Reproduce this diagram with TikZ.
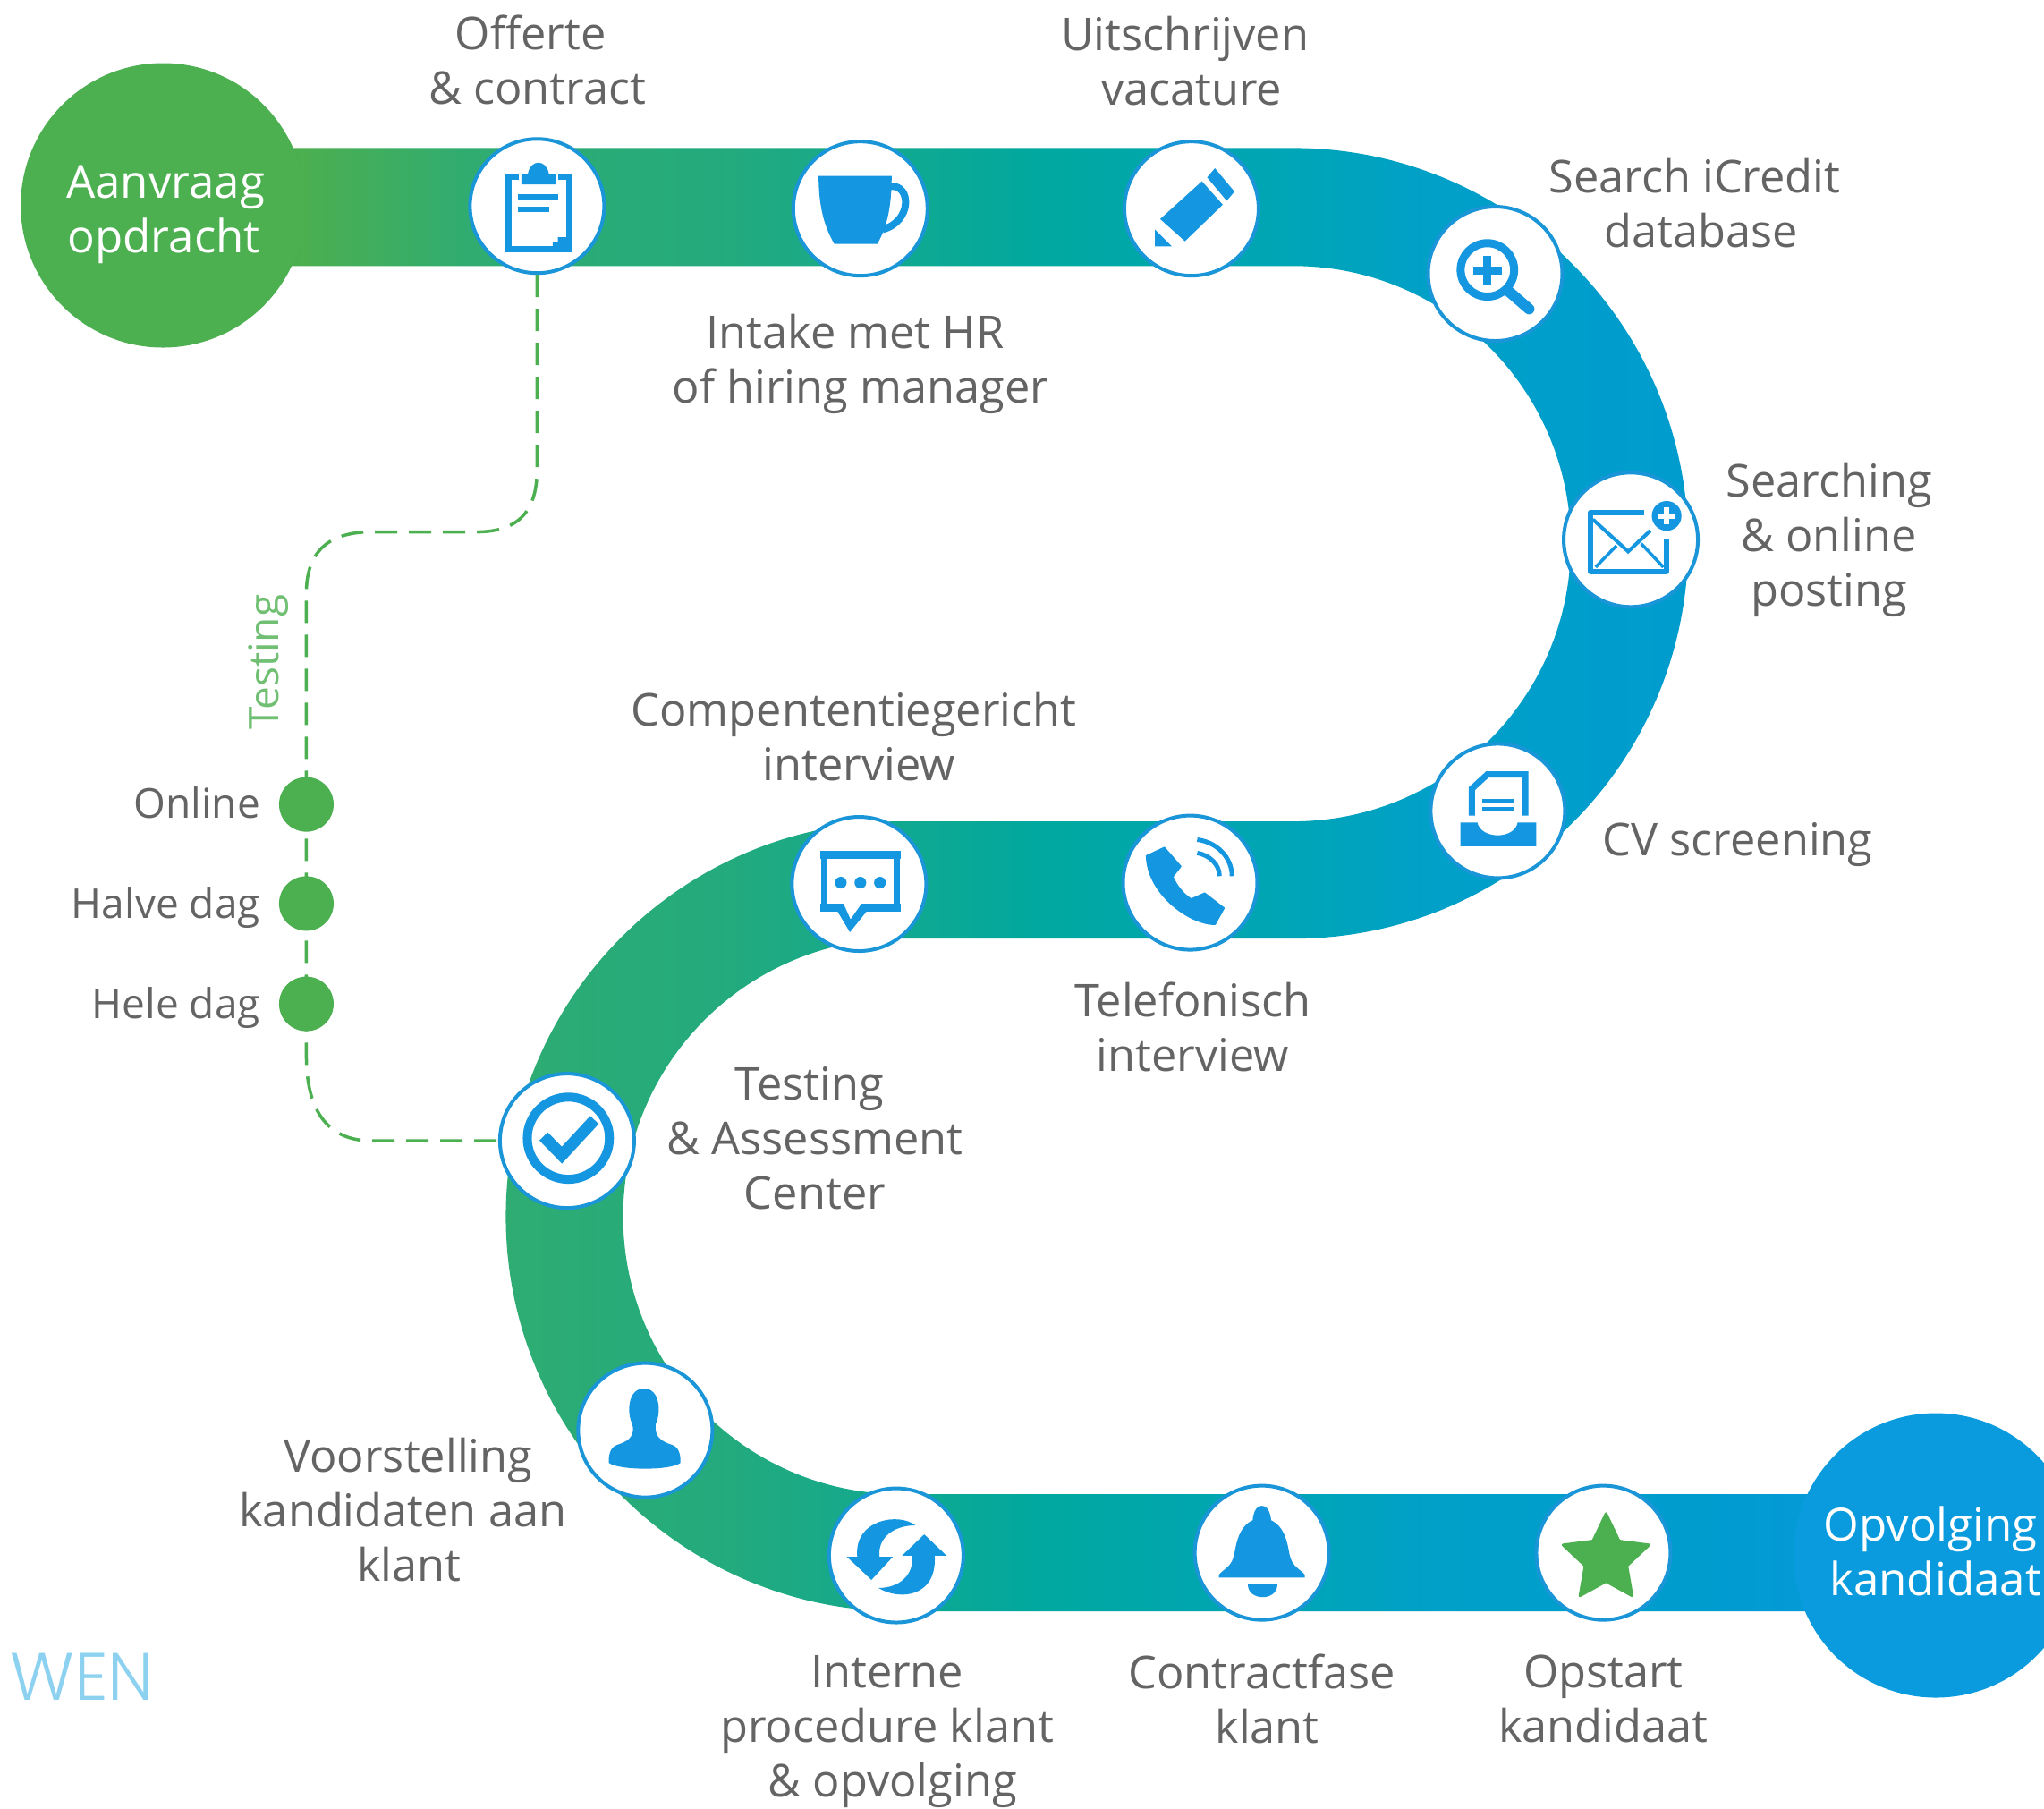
\documentclass[tikz,border=0pt]{standalone}
\usepackage{fontspec}
\setmainfont{Open Sans}
\newfontfamily\wenfont{Poppins Light}
\definecolor{iconblue}{RGB}{20,150,224}
\definecolor{ringblue}{RGB}{26,150,216}
\definecolor{leafgreen}{RGB}{76,175,80}
\definecolor{endblue}{RGB}{10,155,222}
\definecolor{labelgrey}{RGB}{100,100,100}
\definecolor{wenblue}{RGB}{140,210,240}
\pgfdeclarehorizontalshading{trackgrad}{100bp}{
  rgb(0bp)=(0.30,0.686,0.31);
  rgb(25.8bp)=(0.30,0.686,0.31);
  rgb(31bp)=(0.19,0.675,0.44);
  rgb(39.5bp)=(0.137,0.667,0.49);
  rgb(49.4bp)=(0,0.659,0.627);
  rgb(57.6bp)=(0,0.645,0.72);
  rgb(61.8bp)=(0,0.627,0.785);
  rgb(70.7bp)=(0,0.61,0.81);
  rgb(75bp)=(0.02,0.60,0.86);
  rgb(100bp)=(0.02,0.60,0.86)}
\newcommand\nudge[1]{\hspace*{#1pt}}
\tikzset{
  x=1.4573pt,y=-1.4573pt,
  stage/.style={circle,draw=ringblue,fill=white,line width=4pt,minimum size=150pt,inner sep=0pt},
  label/.style={text=labelgrey,align=center,font=\fontsize{50.5}{61}\selectfont},
  blobtext/.style={text=white,align=center,font=\fontsize{51}{61}\selectfont},
  blob/.style={circle,minimum size=318pt,inner sep=0pt},
  testdot/.style={circle,fill=leafgreen,minimum size=61pt,inner sep=0pt},
  testlabel/.style={text=labelgrey,anchor=east,font=\fontsize{46}{52}\selectfont},
  dashline/.style={draw=leafgreen,line width=3.5pt,dash pattern=on 25pt off 13pt},
  icon/.style={fill=iconblue,draw=none},
  iconline/.style={draw=iconblue,fill=none}
}
\begin{document}
\begin{tikzpicture}
\useasboundingbox (0,0) rectangle (1568,1387);
\fill[white] (0,0) rectangle (1568,1387);
\clip (0,0) rectangle (1568,1387);
% track
\shade[shading=trackgrad]
  (210,113.5) -- (992,113.5)
  .. controls (1159.3,113.5) and (1295,249.7) .. (1295,417)
  .. controls (1295,584.3) and (1159.3,720) .. (992,720)
  -- (691,720)
  .. controls (573.4,720) and (478,815.4) .. (478,933)
  .. controls (478,1050.6) and (573.4,1146) .. (691,1146)
  -- (1420,1146) -- (1420,1236) -- (691,1236)
  .. controls (523.7,1236) and (388,1100.3) .. (388,933)
  .. controls (388,765.7) and (523.7,630) .. (691,630)
  -- (992,630)
  .. controls (1109.6,630) and (1205,534.6) .. (1205,417)
  .. controls (1205,299.4) and (1109.6,204) .. (992,204)
  -- (210,204) -- cycle;
% end blobs
\node[blob,fill=leafgreen] (start) at (125,157.5) {};
\node[blob,fill=endblue] (finish) at (1485,1193) {};
\node[blobtext] (startlabel) at (127,164.5) {Aanvraag\\opdracht\nudge{4}};
\node[blobtext] (finishlabel) at (1481,1190) {Opvolging\\\nudge{11}kandidaat};
% stages
\node[stage] (n1) at (412,158) {};
\node[stage] (n2) at (660,160) {};
\node[stage] (n3) at (914,160) {};
\node[stage] (n4) at (1147,210) {};
\node[stage] (n5) at (1251,414) {};
\node[stage] (n6) at (1149,622) {};
\node[stage] (n7) at (913,677) {};
\node[stage] (n8) at (659,678) {};
\node[stage] (n9) at (435,875) {};
\node[stage] (n10) at (495,1097) {};
\node[stage] (n11) at (687.5,1193) {};
\node[stage] (n12) at (968,1191) {};
\node[stage] (n13) at (1230,1191) {};
% dashed testing branch
\coordinate (d1) at (412,360);
\coordinate (d2) at (365,408);
\coordinate (d3) at (285,408);
\coordinate (d4) at (235,455);
\coordinate (d5) at (235,810);
\coordinate (d6) at (285,875);
\draw[dashline] (n1.south) -- (d1)
  .. controls (412,395) and (395,408) .. (d2) -- (d3)
  .. controls (250,408) and (235,425) .. (d4) -- (d5)
  .. controls (235,850) and (250,875) .. (d6) -- (n9.west);
\node[testdot] (t1) at (235,617) {};
\node[testdot] (t2) at (235,693) {};
\node[testdot] (t3) at (235,770) {};
\node[testlabel] (tl1) at (202,616) {Online};
\node[testlabel] (tl2) at (202,696) {Halve dag};
\node[testlabel] (tl3) at (202,773) {Hele dag};
\node[rotate=90,text=leafgreen!80!white,font=\fontsize{46}{50}\selectfont] (tt) at (206,508) {Testing};
% labels
\node[label] (l1) at (407,46) {Offerte\\\nudge{15}\& contract};
\node[label] (l3) at (909,47) {Uitschrijven\\\nudge{15}vacature};
\node[label] (l2) at (656,279) {Intake met HR\\\nudge{12}of hiring manager};
\node[label] (l4) at (1300,156) {Search iCredit\\\nudge{15}database};
\node[label] (l5) at (1403,414) {Searching\\\& online\\posting};
\node[label] (l6) at (1333,648) {CV screening};
\node[label] (l8) at (655,565) {Compententiegericht\\\nudge{12}interview};
\node[label] (l7) at (915,788) {Telefonisch\\interview};
\node[label] (l9) at (621,873) {Testing\\\nudge{12}\& Assessment\\\nudge{12}Center};
\node[label] (l10) at (309,1158) {\nudge{12}Voorstelling\\kandidaten aan\\\nudge{14}klant};
\node[label] (l11) at (680.5,1328) {Interne\\procedure klant\\\nudge{12}\& opvolging};
\node[label] (l12) at (968,1303) {Contractfase\\\nudge{12}klant};
\node[label] (l13) at (1230,1303) {Opstart\\kandidaat};
\node[text=wenblue,font=\wenfont\fontsize{75}{85}\selectfont] (wen) at (63,1286) {WEN};
% icon: clipboard
\draw[iconline,line width=6.5pt] (398,136) -- (390,136) -- (390,191) -- (436.5,191) -- (436.5,136) -- (428,136);
\fill[icon] (400,141.5) -- (400,134) -- (405,133) .. controls (407,122) and (419,122) .. (421,133) -- (426,134) -- (426,141.5) -- cycle;
\fill[icon] (397.3,149) rectangle (428,153);
\fill[icon] (397.3,158.5) rectangle (421,162.5);
\fill[icon] (424,193.3) -- (424,186) -- (428,186) -- (428,182) -- (439,182) -- (439,193.3) -- cycle;
% icon: cup
\fill[icon] (628,135) -- (684,135) .. controls (684,160) and (680,175) .. (673,187) -- (640,187) .. controls (633,175) and (628,160) .. cycle;
\draw[iconline,line width=8pt] (683,143) .. controls (699,141) and (700,170) .. (677,176);
% icon: pencil
\fill[icon] (932,129) -- (947,147) -- (941,154) -- (926,136) -- cycle;
\fill[icon] (890,168) -- (922,139) -- (938,157) -- (909,185) -- cycle;
\fill[icon] (886,176) -- (886,189) -- (899,189) -- cycle;
% icon: search
\draw[iconline,line width=9pt] (1141,207) circle (20.5);
\draw[iconline,line width=12pt,line cap=round] (1158,224) -- (1173,237);
\fill[icon] (1130,204.5) rectangle (1152,210.5);
\fill[icon] (1138,196) rectangle (1144,218);
% icon: mail
\draw[iconline,line width=6pt,line join=round] (1261,393) -- (1220,393) -- (1220,438.3) -- (1278.6,438.3) -- (1278.6,413);
\draw[iconline,line width=4pt] (1222,398.5) -- (1249,423) -- (1266,407);
\draw[iconline,line width=3.5pt] (1224,435) -- (1240,418.6);
\draw[iconline,line width=3.5pt] (1259,417) -- (1276,435);
\fill[icon] (1278.5,395.7) circle (11.4);
\fill[white] (1272,393.7) rectangle (1285,397.7);
\fill[white] (1276.5,389.2) rectangle (1280.5,402.2);
% icon: cv tray
\fill[icon] (1120.3,630.8) -- (1133.3,630.8) .. controls (1136,644) and (1162,644) .. (1164.2,630.8) -- (1178.4,630.8) -- (1178.4,649.1) -- (1120.3,649.1) -- cycle;
\draw[iconline,line width=7pt] (1129,625.6) -- (1129,605) -- (1141,594) -- (1170,594) -- (1170,625.6);
\draw[iconline,line width=3.5pt] (1137.2,614) -- (1160.8,614);
\draw[iconline,line width=3.5pt] (1137.2,620.5) -- (1160.8,620.5);
% icon: phone
\fill[icon,draw=iconblue,line width=1.5pt,line join=round] (879.5,656.4) -- (893.2,650) -- (905.8,664.5) -- (899.6,672.5)
  .. controls (903,680) and (908,686) .. (913.8,689.6) -- (924.1,685) -- (939,696.5) -- (932.1,709)
  .. controls (912,709) and (880,685) .. (879.5,656.4) -- cycle;
\draw[iconline,line width=5pt] (918.4,644) .. controls (934,646) and (945,658) .. (945.1,672);
\draw[iconline,line width=5pt] (918.4,654.2) .. controls (928,656) and (935.5,663) .. (935.5,672);
% icon: chat
\draw[iconline,line width=7pt,line join=round] (632,656) -- (688,656) -- (688,696) -- (632,696) -- cycle;
\fill[icon] (629,652.5) rectangle (691,659);
\fill[icon] (629,693) rectangle (691,699.5);
\fill[icon] (640,695) -- (668,695) -- (652,715) -- cycle;
\fill[white] (647,692.8) -- (661,692.8) -- (652.5,705) -- cycle;
\fill[icon] (645,677) circle (4.5);
\fill[icon] (660,677) circle (4.5);
\fill[icon] (675,677) circle (4.5);
% icon: check
\draw[iconline,line width=10pt] (436,873) circle (31.5);
\draw[iconline,line width=13pt] (417,871.6) -- (431,886) -- (456,859);
% icon: person
\fill[icon] (494,1065) .. controls (507,1065) and (507,1085) .. (503,1092) .. controls (502,1100) and (505,1105) .. (515,1108)
  .. controls (522,1110) and (522,1118) .. (522,1122) .. controls (515,1128) and (475,1128) .. (467,1122)
  .. controls (467,1118) and (467,1110) .. (474,1108) .. controls (484,1105) and (487,1100) .. (485,1092)
  .. controls (481,1085) and (481,1065) .. (494,1065) -- cycle;
% icon: sync
\fill[icon] (702.2,1170) .. controls (690,1160) and (655,1165) .. (657.6,1194) -- (649.6,1194) -- (668.5,1211.8) -- (685,1194) -- (674.7,1194)
  .. controls (673,1180) and (685,1170) .. (702.2,1170) -- cycle;
\fill[icon] (674,1218) .. controls (690,1228) and (719,1225) .. (717,1193.3) -- (726.2,1193.3) -- (709,1176.9) -- (691.9,1193.3) -- (699.9,1193.3)
  .. controls (701,1208) and (690,1218) .. (674,1218) -- cycle;
% icon: bell
\fill[icon] (968,1155) .. controls (973,1155) and (975,1162) .. (975,1166)
  .. controls (988,1172) and (988,1190) .. (990,1195) .. controls (992,1202) and (998,1204) .. (1001,1208)
  -- (1001,1210) -- (935,1210) -- (935,1208)
  .. controls (938,1204) and (944,1202) .. (946,1195) .. controls (948,1190) and (948,1172) .. (961,1166)
  .. controls (961,1162) and (963,1155) .. (968,1155) -- cycle;
\fill[icon] (957,1215) -- (980,1215) .. controls (980,1228) and (957,1228) .. (957,1215) -- cycle;
% icon: star
\draw[fill=leafgreen,draw=leafgreen,line width=3pt,line join=round]
  (1232,1161) -- (1242,1182) -- (1265,1185) -- (1248,1201) -- (1252,1224) -- (1232,1213) -- (1212,1224) -- (1216,1201) -- (1199,1185) -- (1222,1182) -- cycle;
\end{tikzpicture}
\end{document}
